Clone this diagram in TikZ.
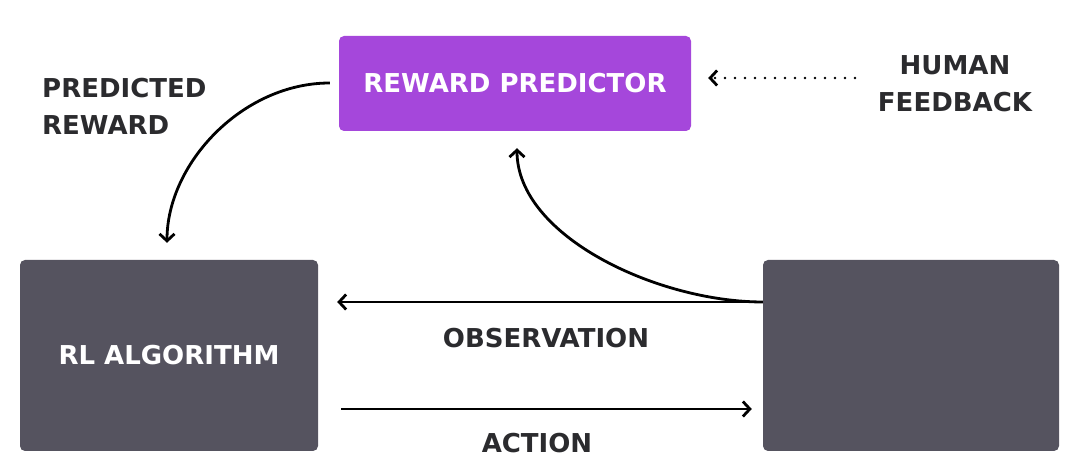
\documentclass[tikz,border=0pt]{standalone}
\usepackage{fontspec}
\setmainfont{DejaVu Sans}
\usetikzlibrary{arrows.meta,calc}
\definecolor{purp}{HTML}{A547DB}
\definecolor{slate}{HTML}{55535F}
\definecolor{ink}{HTML}{2B2B2E}
\begin{document}
\begin{tikzpicture}[x=1pt, y=1pt, >={Straight Barb[length=7pt,width=15pt]},
  box/.style={rounded corners=5pt, inner sep=0pt},
  lbl/.style={text=ink, font=\fontsize{26}{37}\selectfont\bfseries, align=left},
  conn/.style={line width=2.8pt, ->}]
\useasboundingbox (0,0) rectangle (1080,473);
\node[box, fill=purp, minimum width=352, minimum height=95, text=white, font=\fontsize{26}{30}\selectfont\bfseries](reward) at (515,389.5){REWARD PREDICTOR};
\node[box, fill=slate, minimum width=298, minimum height=191, text=white, font=\fontsize{26}{30}\selectfont\bfseries](rl) at (169,117.5){RL ALGORITHM};
\node[box, fill=slate, minimum width=296, minimum height=191](env) at (911,117.5){};
\node[lbl, anchor=west, inner sep=0pt](pred) at (42,367){PREDICTED\\REWARD};
\node[lbl, align=center, inner sep=0pt](human) at (955,389){HUMAN\\FEEDBACK};
\coordinate (obs) at ([yshift=53.5]env.west);
% connectors
\draw[conn, dash pattern=on 0pt off 10pt, line cap=round] (855,395)--([yshift=5.5]reward.east)[shorten >=17pt];
\draw[conn, shorten <=9pt, shorten >=17pt] ([yshift=0.5]reward.west) to[out=180, in=90] ([xshift=-2]rl.north);
\draw[conn, shorten >=17pt] (obs) to[out=180, in=-90, looseness=0.9] ([xshift=2]reward.south);
\draw[conn, shorten >=19pt] (obs)--([yshift=53.5]rl.east);
\draw[conn, shorten <=23pt, shorten >=11pt] ([yshift=-53.5]rl.east)--([yshift=-53.5]env.west);
\node[lbl](obslbl) at (546,135){OBSERVATION};
\node[lbl](actlbl) at (537,30){ACTION};
\end{tikzpicture}
\end{document}
